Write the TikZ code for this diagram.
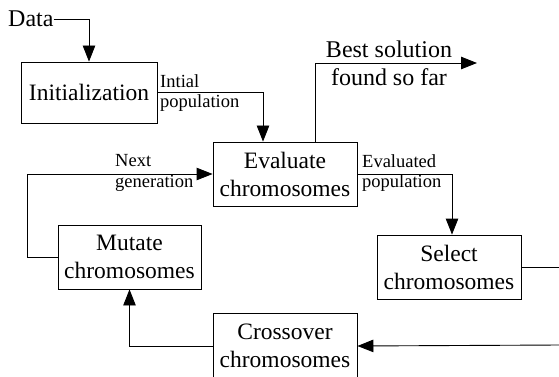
\documentclass[tikz,border=0pt]{standalone}
\usepackage{fontspec}
\setmainfont{Liberation Serif}
\usetikzlibrary{arrows.meta}
\tikzset{
  box/.style={draw, line width=0.9pt, minimum width=144pt, minimum height=64pt, inner sep=0pt, align=center, font=\fontsize{23.5}{28}\selectfont},
  lbl/.style={inner sep=0pt, align=left, anchor=west, font=\fontsize{18.5}{20.5}\selectfont},
  big/.style={inner sep=0pt, font=\fontsize{24}{28}\selectfont},
  conn/.style={line width=0.9pt},
  arr/.style={conn, -{Triangle[length=16pt,width=12.5pt]}}
}
\begin{document}
\begin{tikzpicture}[x=1pt,y=-1pt]
\useasboundingbox (0,0) rectangle (559,377);
\clip (0,0) rectangle (559,377);
\node[big, anchor=base west] (data) at (8,27) {Data};
\node[box, minimum width=136pt, minimum height=61pt] (init) at (89,92.5) {Initialization};
\node[box] (eval) at (285,174) {Evaluate\\chromosomes};
\node[box, minimum width=143pt] (mut) at (129.5,257) {Mutate\\chromosomes};
\node[box] (sel) at (449,267) {Select\\chromosomes};
\node[box, minimum height=66pt] (cross) at (285,346) {Crossover\\chromosomes};
\coordinate (best) at (477,63);
\coordinate (r1) at (560,267);
\coordinate (r2) at (560,345);
\node[big, align=center] (bestlbl) at (389,63) {Best solution\\found so far};
\node[lbl] (initlbl) at (160,93) {Intial\\population};
\node[lbl] (evallbl) at (362,173) {Evaluated\\population};
\node[lbl] (nextlbl) at (115,173) {Next\\generation};
\draw[arr] (data.east) -| (init.north);
\draw[arr] (init.east) -| ([xshift=-22pt]eval.north);
\draw[arr] ([xshift=30pt]eval.north) |- (best);
\draw[arr] (eval.east) -| ([xshift=3pt]sel.north);
\draw[conn] (sel.east) -- (r1);
\draw[arr] (r2) -- (cross.east);
\draw[arr] (cross.west) -| (mut.south);
\draw[arr] (mut.west) -- ++(-30,0) |- (eval.west);
\end{tikzpicture}
\end{document}
